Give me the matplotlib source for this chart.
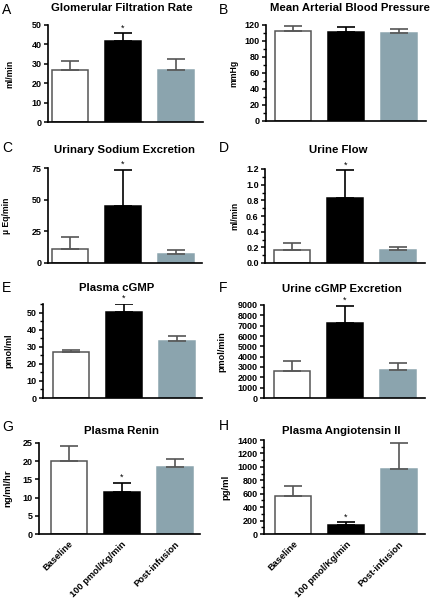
import matplotlib.pyplot as plt
from matplotlib.ticker import MultipleLocator, FormatStrFormatter

plt.rcParams['font.family'] = ['Liberation Sans', 'DejaVu Sans']

# data (mean, upper SEM)
groups = ['Baseline', '100 pmol/Kg/min', 'Post-infusion']

gfr = [26.8, 41.9, 26.8]
gfr_err = [4.8, 3.8, 5.5]
map_vals = [112.9, 111.6, 109.6]
map_err = [5.9, 5.4, 5.0]
sodium = [11.4, 45.0, 7.5]
sodium_err = [9.3, 28.6, 2.6]
flow = [0.172, 0.827, 0.172]
flow_err = [0.077, 0.36, 0.034]
plasma_cgmp = [27.2, 50.6, 33.5]
plasma_cgmp_err = [0.6, 4.5, 2.9]
urine_cgmp = [2633, 7293, 2730]
urine_cgmp_err = [900, 1640, 645]
renin = [20.0, 11.5, 18.4]
renin_err = [4.3, 2.6, 2.2]
ang2 = [572, 139, 972]
ang2_err = [146, 38, 389]

W, H = 432, 599
fig = plt.figure(figsize=(W / 100, H / 100), dpi=100)

bar_colors = ['white', 'black', '#8ba4ae']
edge_colors = ['#555555', 'black', '#8ba4ae']
err_colors = ['#555555', 'black', '#555555']
unit = 53.0      # px between bar centres
bar_w = 36 / unit

# letter, title, ylabel, values, errors, ymax, major, minor, fmt, star
panels = [
    ('A', 'Glomerular Filtration Rate', 'ml/min', gfr, gfr_err, 50, 10, None, '%d', True),
    ('B', 'Mean Arterial Blood Pressure', 'mmHg', map_vals, map_err, 120, 20, 10, '%d', False),
    ('C', 'Urinary Sodium Excretion', 'µ Eq/min', sodium, sodium_err, 75, 25, None, '%d', True),
    ('D', 'Urine Flow', 'ml/min', flow, flow_err, 1.2, 0.2, 0.1, '%.1f', True),
    ('E', 'Plasma cGMP', 'pmol/ml', plasma_cgmp, plasma_cgmp_err, 55, 10, 5, '%d', True),
    ('F', 'Urine cGMP Excretion', 'pmol/min', urine_cgmp, urine_cgmp_err, 9000, 1000, None, '%d', True),
    ('G', 'Plasma Renin', 'ng/ml/hr', renin, renin_err, 25, 5, None, '%d', True),
    ('H', 'Plasma Angiotensin II', 'pg/ml', ang2, ang2_err, 1400, 200, 100, '%d', True),
]

# pixel layout: axes rect (left, top, right, bottom), first bar centre,
# title centre, letter position, ylabel x, ylabel size
layout = [
    ((48, 25, 203, 122), 70, (122, 8), (2, 10), 14, 6.2),
    ((266, 25, 426, 121), 292.5, (350, 8), (219, 10), 238, 6.2),
    ((48, 168, 202, 263), 70, (124, 150), (2, 148), 11, 6.2),
    ((265, 169, 425, 263), 292.3, (338, 150), (219, 148), 239, 6.2),
    ((43, 304, 202, 398), 70.5, (117, 288), (2, 288), 13, 6.5),
    ((264, 305, 425, 398), 292, (342, 289), (219, 288), 226, 6.6),
    ((39, 443, 200, 534), 68.5, (122, 431), (2, 427), 12, 6.8),
    ((264, 440, 425, 534), 293, (341, 431), (219, 426), 230, 6.8),
]

for i, (p, lay) in enumerate(zip(panels, layout)):
    letter, title, ylab, vals, errs, ymax, major, minor, fmt, star = p
    (l, t, r, b), x0, tpos, lpos, ylx, yls = lay
    ax = fig.add_axes([l / W, 1 - b / H, (r - l) / W, (b - t) / H])
    xs = [0, 1, 2]
    ax.bar(xs, vals, width=bar_w, color=bar_colors, edgecolor=edge_colors,
           linewidth=1.1, zorder=2)
    for x, v, e, c in zip(xs, vals, errs, err_colors):
        ax.errorbar(x, v, yerr=[[0], [e]], fmt='none', ecolor=c,
                    elinewidth=1.2, capsize=6.5, capthick=1.2, zorder=3)
    if star:
        ax.annotate('*', (1, vals[1] + errs[1]), xytext=(0, 0.5),
                    textcoords='offset points', ha='center', va='bottom',
                    fontsize=6.5, annotation_clip=False)
    ax.set_xlim((l - x0) / unit, (r - x0) / unit)
    ax.set_ylim(0, ymax)
    ax.yaxis.set_major_locator(MultipleLocator(major))
    if minor:
        ax.yaxis.set_minor_locator(MultipleLocator(minor))
    ax.yaxis.set_major_formatter(FormatStrFormatter(fmt))
    for s in ['top', 'right']:
        ax.spines[s].set_visible(False)
    for s in ['left', 'bottom']:
        ax.spines[s].set_linewidth(1.2)
    ax.tick_params(axis='y', which='major', length=3, width=1.1, pad=1.5,
                   labelsize=6.5)
    ax.tick_params(axis='y', which='minor', length=2, width=1.0)
    for lbl in ax.get_yticklabels():
        lbl.set_fontweight('bold')
    if i >= 6:
        ax.set_xticks(xs)
        ax.set_xticklabels(groups, rotation=45, ha='right',
                           rotation_mode='anchor', fontsize=6.7,
                           fontweight='bold')
        ax.tick_params(axis='x', length=0, pad=4)
    else:
        ax.set_xticks([])
    ax.set_ylabel(ylab, fontsize=yls, fontweight='bold')
    ax.yaxis.set_label_coords((ylx - l) / (r - l), 0.5)
    fig.text(tpos[0] / W, 1 - tpos[1] / H, title, ha='center', va='center',
             fontsize=8.2, fontweight='bold')
    fig.text(lpos[0] / W, 1 - lpos[1] / H, letter, ha='left', va='center',
             fontsize=10)

fig.savefig('out.png', dpi=100)
